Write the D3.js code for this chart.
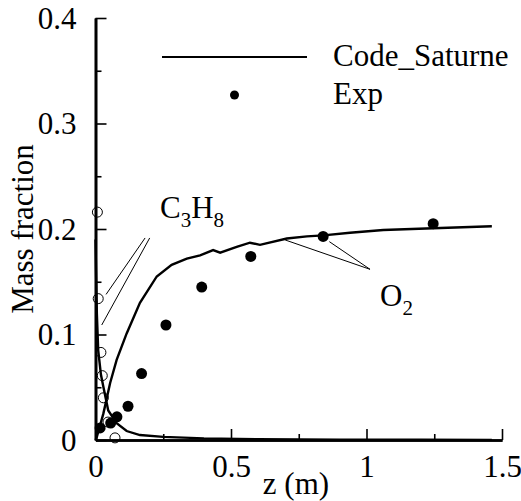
<!DOCTYPE html>
<html><head><meta charset="utf-8">
<script src="https://cdn.jsdelivr.net/npm/d3@7"></script>
<style>
html,body{margin:0;padding:0;background:#fff;}
svg{display:block;}
</style></head>
<body>
<svg id="chart" width="521" height="501"></svg>
<script>
// ---- data ----
const xTicks = [0, 0.5, 1, 1.5];
const xTickLabels = ["0", "0.5", "1", "1.5"];
const xMinorTicks = [0.25, 0.75, 1.25];
const yTicks = [0, 0.1, 0.2, 0.3, 0.4];
const yTickLabels = ["0", "0.1", "0.2", "0.3", "0.4"];
const yMinorTicks = [0.05, 0.15, 0.25, 0.35];

// Code_Saturne O2
const simO2z = [0, 0.004, 0.029, 0.054, 0.078, 0.115, 0.164, 0.226, 0.281, 0.337, 0.386, 0.434, 0.46, 0.521, 0.57, 0.607, 0.706, 0.78, 0.841, 0.939, 1.062, 1.246, 1.4625];
const simO2v = [0, 0.002, 0.025, 0.054, 0.076, 0.101, 0.130, 0.155, 0.166, 0.172, 0.175, 0.180, 0.1775, 0.183, 0.187, 0.185, 0.191, 0.193, 0.194, 0.1965, 0.199, 0.2007, 0.2026];
// Code_Saturne C3H8
const simC3z = [0, 0.002, 0.005, 0.01, 0.02, 0.029, 0.047, 0.078, 0.115, 0.164, 0.25, 0.4, 0.6, 0.9, 1.2, 1.4625];
const simC3v = [0.19, 0.16, 0.12, 0.085, 0.062, 0.0505, 0.028, 0.016, 0.0085, 0.0047, 0.003, 0.0015, 0.0008, 0.0004, 0.0002, 0.0001];
// Exp O2 (filled)
const expO2z = [0.017, 0.056, 0.079, 0.12, 0.17, 0.26, 0.392, 0.573, 0.84, 1.246];
const expO2v = [0.0114, 0.016, 0.022, 0.032, 0.063, 0.109, 0.145, 0.174, 0.193, 0.205];
// Exp C3H8 (open)
const expC3z = [0.007, 0.01, 0.02, 0.025, 0.029, 0.046, 0.072];
const expC3v = [0.216, 0.134, 0.083, 0.061, 0.040, 0.017, 0.002];

const legendLabels = ["Code_Saturne", "Exp"];
const xTitle = "z (m)";
const yTitle = "Mass fraction";

// ---- scales ----
const FONT = '"Liberation Serif"';
const svg = d3.select("#chart");
const x = d3.scaleLinear().domain([0, 1.5]).range([95.5, 502]);
const y = d3.scaleLinear().domain([0, 0.4]).range([440, 18]);
const FS = 31;

function txt(sel) { return sel.attr("font-family", FONT).attr("fill", "#000"); }

// axes
const gx = svg.append("g").attr("transform", `translate(0,${y(0)})`)
  .call(d3.axisBottom(x).tickValues(xTicks).tickFormat((d,i)=>xTickLabels[i]).tickSizeInner(-11).tickSizeOuter(0).tickPadding(18));
const gxm = svg.append("g").attr("transform", `translate(0,${y(0)})`)
  .call(d3.axisBottom(x).tickValues(xMinorTicks).tickFormat("").tickSizeInner(-6).tickSizeOuter(0));
const gy = svg.append("g").attr("transform", `translate(${x(0)},0)`)
  .call(d3.axisLeft(y).tickValues(yTicks).tickFormat((d,i)=>yTickLabels[i]).tickSizeInner(-11).tickSizeOuter(0).tickPadding(19));
const gym = svg.append("g").attr("transform", `translate(${x(0)},0)`)
  .call(d3.axisLeft(y).tickValues(yMinorTicks).tickFormat("").tickSizeInner(-6).tickSizeOuter(0));

[gx, gxm, gy, gym].forEach(g => {
  g.attr("font-family", FONT).attr("font-size", FS);
  g.select(".domain").attr("stroke", "#000").attr("stroke-width", 2.6);
  g.selectAll(".tick line").attr("stroke", "#000").attr("stroke-width", 1.6);
  txt(g.selectAll(".tick text")).attr("font-size", FS);
});
gx.selectAll(".tick text").attr("dy", "0.62em");
gy.selectAll(".tick text").attr("dy", "0.33em");

// axis titles
txt(svg.append("text")).attr("x", 296).attr("y", 494).attr("text-anchor", "middle").attr("font-size", FS).text(xTitle);
txt(svg.append("text")).attr("transform", `translate(33,${(y(0)+y(0.4))/2}) rotate(-90)`).attr("text-anchor", "middle").attr("font-size", FS).text(yTitle);

// curves
const line = d3.line().x(d => x(d[0])).y(d => y(d[1]));
const o2 = simO2z.map((z,i)=>[z, simO2v[i]]);
const c3 = simC3z.map((z,i)=>[z, simC3v[i]]);
svg.append("path").datum(c3).attr("d", line).attr("fill", "none").attr("stroke", "#000").attr("stroke-width", 2.4);
svg.append("path").datum(o2).attr("d", line).attr("fill", "none").attr("stroke", "#000").attr("stroke-width", 2.4);

// exp points
svg.selectAll(".c3").data(expC3z.map((z,i)=>[z, expC3v[i]])).enter().append("circle")
  .attr("cx", d=>x(d[0])).attr("cy", d=>y(d[1])).attr("r", 5).attr("fill", "none").attr("stroke", "#000").attr("stroke-width", 1);
svg.selectAll(".o2").data(expO2z.map((z,i)=>[z, expO2v[i]])).enter().append("circle")
  .attr("cx", d=>x(d[0])).attr("cy", d=>y(d[1])).attr("r", 5.5).attr("fill", "#000");

// annotations (in data units)
const leaders = [
  [[0.183, 0.1915], [0.039, 0.138]],
  [[0.200, 0.1915], [0.023, 0.109]],
  [[1.013, 0.1618], [0.70, 0.1896]],
  [[1.013, 0.1618], [0.863, 0.188]]
];
leaders.forEach(l => svg.append("path").datum(l).attr("d", line).attr("stroke", "#000").attr("stroke-width", 1).attr("fill", "none"));

const c3lab = txt(svg.append("text")).attr("x", x(0.238)).attr("y", y(0.210)).attr("font-size", FS);
c3lab.append("tspan").text("C");
c3lab.append("tspan").attr("font-size", 21).attr("dy", 9).text("3");
c3lab.append("tspan").attr("dy", -9).text("H");
c3lab.append("tspan").attr("font-size", 21).attr("dy", 9).text("8");

const o2lab = txt(svg.append("text")).attr("x", x(1.05)).attr("y", y(0.127)).attr("font-size", FS);
o2lab.append("tspan").text("O");
o2lab.append("tspan").attr("font-size", 21).attr("dy", 9).text("2");

// legend
svg.append("line").attr("x1", 162).attr("x2", 307).attr("y1", 57).attr("y2", 57).attr("stroke", "#000").attr("stroke-width", 2);
svg.append("circle").attr("cx", 234.5).attr("cy", 95).attr("r", 4.5).attr("fill", "#000");
txt(svg.append("text")).attr("x", 333).attr("y", 66).attr("font-size", FS).text(legendLabels[0]);
txt(svg.append("text")).attr("x", 333).attr("y", 104).attr("font-size", FS).text(legendLabels[1]);
</script>
</body></html>
